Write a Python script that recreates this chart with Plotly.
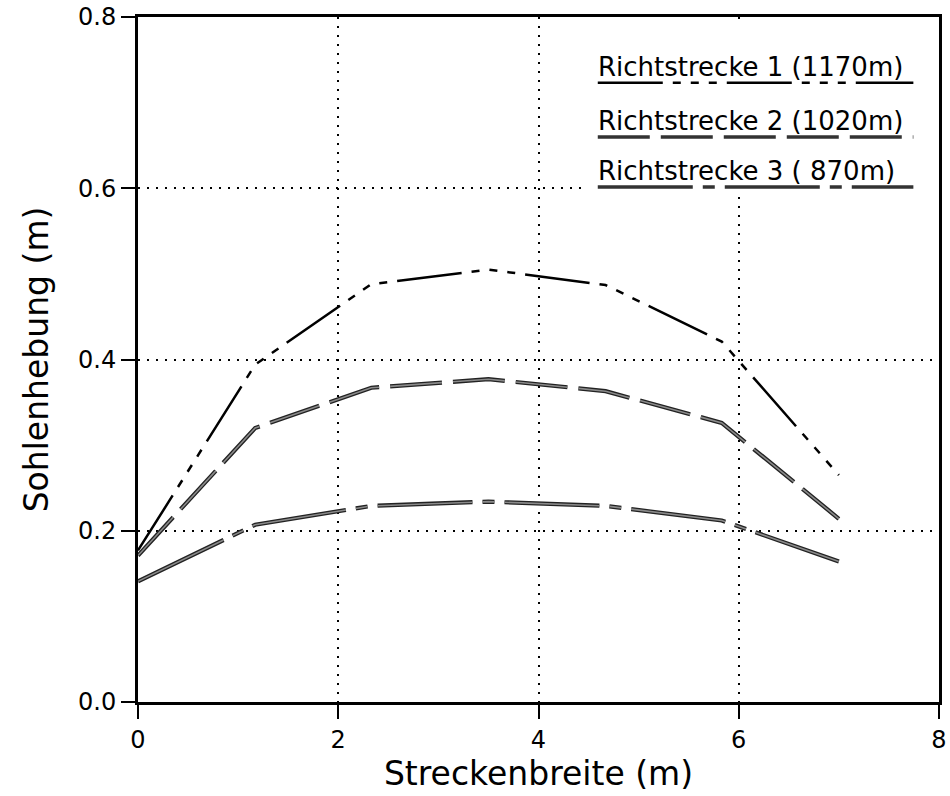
import plotly.graph_objects as go

# ---- data ----
x_m = [0.0, 1.17, 2.33, 3.5, 4.67, 5.83, 7.0]
rs1 = [0.177, 0.394, 0.488, 0.505, 0.487, 0.421, 0.265]
rs2 = [0.171, 0.320, 0.367, 0.377, 0.363, 0.326, 0.214]
rs3 = [0.141, 0.207, 0.229, 0.234, 0.229, 0.212, 0.164]
series_names = ["Richtstrecke 1 (1170m)", "Richtstrecke 2 (1020m)", "Richtstrecke 3 ( 870m)"]
x_ticks = [0, 2, 4, 6, 8]
y_ticks = [0.0, 0.2, 0.4, 0.6, 0.8]

dash1 = "65px,10px,8px,10px,8px,10px,8px,10px"
dash2 = "52px,11px"
dash3 = "95px,10px,12px,10px"

FONT = "DejaVu Sans"

fig = go.Figure()

# Series 1: plain black
fig.add_trace(go.Scatter(x=x_m, y=rs1, mode="lines", name=series_names[0],
                         line=dict(color="black", width=2.5, dash=dash1), showlegend=False))
# Series 2 & 3: gray core with dark outline
for ys, d, nm in [(rs2, dash2, series_names[1]), (rs3, dash3, series_names[2])]:
    fig.add_trace(go.Scatter(x=x_m, y=ys, mode="lines", name=nm,
                             line=dict(color="#222222", width=4.2, dash=d), showlegend=False))
    fig.add_trace(go.Scatter(x=x_m, y=ys, mode="lines", name=nm, hoverinfo="skip",
                             line=dict(color="#8a8a8a", width=1.6, dash=d), showlegend=False))

# ---- legend drawn as text with dashed underline ----
leg_y_text = [0.927, 0.848, 0.775]
leg_y_line = [0.904, 0.825, 0.752]
leg_styles = [("black", 2.5, dash1), ("#333333", 3.5, dash2), ("#333333", 3.5, dash3)]
fig.add_shape(type="rect", xref="paper", yref="paper", x0=0.557, x1=0.995, y0=0.740, y1=0.995,
              fillcolor="white", line=dict(width=0), layer="above")
for name, yt, yl, (c, w, d) in zip(series_names, leg_y_text, leg_y_line, leg_styles):
    fig.add_annotation(xref="paper", yref="paper", x=0.572, y=yt, text=name, showarrow=False,
                       xanchor="left", yanchor="middle", font=dict(family=FONT, size=26, color="black"))
    fig.add_shape(type="line", xref="paper", yref="paper", x0=0.574, x1=0.968, y0=yl, y1=yl,
                  line=dict(color=c, width=w, dash=d), layer="above")

axis_common = dict(showline=True, linecolor="black", linewidth=3, mirror=True,
                   ticks="outside", ticklen=14, tickwidth=1.5, tickcolor="black",
                   showgrid=True, gridcolor="black", gridwidth=2, griddash="2px,7px",
                   zeroline=False)

fig.update_xaxes(range=[0, 8], tickvals=x_ticks, ticktext=[str(v) for v in x_ticks],
                 tickfont=dict(family=FONT, size=24, color="black"),
                 title=dict(text="Streckenbreite (m)", font=dict(family=FONT, size=33, color="black"),
                            standoff=6),
                 **axis_common)
fig.update_yaxes(range=[0, 0.8], tickvals=y_ticks, ticktext=[f"{v:.1f}" for v in y_ticks],
                 tickfont=dict(family=FONT, size=24, color="black"),
                 title=dict(text="Sohlenhebung (m)", font=dict(family=FONT, size=33, color="black"),
                            standoff=20),
                 **axis_common)

fig.update_layout(width=950, height=796, margin=dict(l=138, r=11, t=17, b=94, autoexpand=False),
                  paper_bgcolor="white", plot_bgcolor="white", showlegend=False)

fig.write_html("out.html")
